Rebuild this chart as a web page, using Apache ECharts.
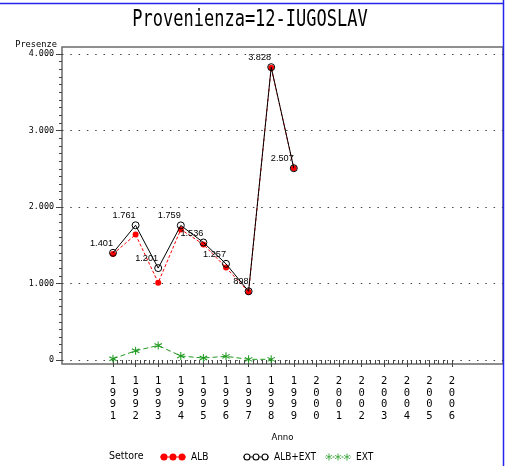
<!DOCTYPE html>
<html><head><meta charset="utf-8">
<script src="https://cdn.jsdelivr.net/npm/echarts@6/dist/echarts.min.js"></script>
<style>html,body{margin:0;padding:0;background:#fff}#c{width:508px;height:466px}</style>
</head><body><div id="c"></div>
<script>
// ---- data ----
const titleText = 'Provenienza=12-IUGOSLAV';
const yAxisName = 'Presenze';
const xAxisName = 'Anno';
const legendTitle = 'Settore';
const seriesNames = ['ALB', 'ALB+EXT', 'EXT'];
const yearsTot = [1991, 1992, 1993, 1994, 1995, 1996, 1997, 1998, 1999];
const valuesTot = [1401, 1761, 1201, 1759, 1536, 1257, 898, 3828, 2507];
const yearsALB = [1991, 1992, 1993, 1994, 1995, 1996, 1997, 1998, 1999];
const valuesALB = [1385, 1640, 1011, 1707, 1510, 1209, 889, 3819, 2507];
const yearsEXT = [1991, 1992, 1993, 1994, 1995, 1996, 1997, 1998];
const valuesEXT = [16, 121, 190, 52, 26, 48, 9, 9];
const xMin = 1991, xMax = 2006;
const yMin = 0, yMax = 4000, yStep = 1000;

// ---- styling helpers ----
const MONO = '"DejaVu Sans Mono", monospace';
const COND = '"DejaVu Sans Condensed", "DejaVu Sans", sans-serif';
const LAB = '"Liberation Sans", Arial, sans-serif';
const RED = '#ff0000', GREEN = '#1f9a1f', BLACK = '#000000';
const fmt = v => String(v).replace(/\B(?=(\d{3})+(?!\d))/g, '.');

function circ(cx, cy, r, cw) {
  const s = cw ? 1 : 0;
  return `M${cx - r},${cy} a${r},${r} 0 1,${s} ${2 * r},0 a${r},${r} 0 1,${s} ${-2 * r},0 Z `;
}
function rect(x0, x1, y0, y1) { return `M${x0},${y0} L${x1},${y0} L${x1},${y1} L${x0},${y1} Z `; }
function star(cx, cy, s) { // asterisk of size s centred at cx,cy
  const k = s / 10, ox = cx - s / 2, oy = cy - s / 2;
  const P = (x, y) => `${(ox + x * k).toFixed(2)},${(oy + y * k).toFixed(2)}`;
  return `M${P(4.4, 0)} L${P(5.6, 0)} L${P(5.6, 10)} L${P(4.4, 10)} Z ` +
         `M${P(0.97, 8.02)} L${P(0.37, 6.98)} L${P(9.03, 1.98)} L${P(9.63, 3.02)} Z ` +
         `M${P(9.03, 8.02)} L${P(0.37, 3.02)} L${P(0.97, 1.98)} L${P(9.63, 6.98)} Z `;
}
const starSymbol = 'path://' + star(5, 5, 10);
const iconALB = 'path://' + rect(0, 26, 3, 4) + circ(4, 3.5, 3.5, true) + circ(13, 3.5, 3.5, true) + circ(22, 3.5, 3.5, true);
const iconTot = 'path://' + rect(0, 0.5, 3, 4) + rect(7.5, 9.5, 3, 4) + rect(16.5, 18.5, 3, 4) + rect(25.5, 26, 3, 4) +
  [4, 13, 22].map(cx => circ(cx, 3.5, 3.5, true) + circ(cx, 3.5, 2.4, false)).join('');
const iconEXT = 'path://' + rect(0, 0.6, 3, 4) + rect(7.6, 9.4, 3, 4) + rect(16.6, 18.4, 3, 4) + rect(25.4, 26, 3, 4) +
  star(4, 3.5, 7) + star(13, 3.5, 7) + star(22, 3.5, 7);

const chart = echarts.init(document.getElementById('c'), null, {renderer: 'canvas'});
const legendBase = {
  orient: 'horizontal', top: 452, padding: 0, itemWidth: 26, itemHeight: 7, itemGap: 0,
  textStyle: {fontFamily: COND, fontSize: 10, color: BLACK}, selectedMode: false
};
chart.setOption({
  animation: false,
  backgroundColor: '#ffffff',
  title: [{text: legendTitle, left: 109, top: 451, padding: 0,
           textStyle: {fontFamily: COND, fontSize: 10.5, fontWeight: 'normal', color: BLACK}}],
  graphic: [
    {type: 'text', x: 250, y: 20, scaleY: 1.35,
     style: {text: titleText, font: '17px ' + MONO, fill: BLACK, textAlign: 'center', textVerticalAlign: 'middle'}},
    {type: 'line', shape: {x1: 0, y1: 3.5, x2: 504, y2: 3.5}, style: {stroke: '#2424ee', lineWidth: 1.5}, z: 100},
    {type: 'line', shape: {x1: 503.5, y1: 0, x2: 503.5, y2: 466}, style: {stroke: '#2424ee', lineWidth: 1.5}, z: 100}
  ],
  legend: [
    Object.assign({}, legendBase, {left: 160, data: [{name: seriesNames[0], icon: iconALB, itemStyle: {color: RED, borderWidth: 0}}]}),
    Object.assign({}, legendBase, {left: 243, data: [{name: seriesNames[1], icon: iconTot, itemStyle: {color: BLACK, borderWidth: 0}}]}),
    Object.assign({}, legendBase, {left: 325, data: [{name: seriesNames[2], icon: iconEXT, itemStyle: {color: GREEN, borderWidth: 0}}]})
  ],
  grid: [
    {left: 62, right: 5, top: 54, bottom: 106},   // y axis + dotted lines
    {left: 113, right: 56, top: 54, bottom: 106}, // data
    {left: 62, right: 5, top: 47, bottom: 102, show: true, borderColor: '#6a6a6a', borderWidth: 1.5, backgroundColor: 'transparent'}
  ],
  xAxis: [
    {gridIndex: 0, type: 'value', min: 0, max: 1, show: false},
    {gridIndex: 1, type: 'value', min: xMin, max: xMax, interval: 1, position: 'bottom', offset: 4,
     axisLine: {show: false},
     axisTick: {show: true, length: 7, lineStyle: {color: '#444', width: 1}},
     minorTick: {show: true, splitNumber: 5, length: 4, lineStyle: {color: '#444', width: 1}},
     splitLine: {show: false},
     axisLabel: {margin: 12, fontFamily: MONO, fontSize: 10.5, lineHeight: 11.4, color: BLACK,
                 formatter: v => String(v).split('').join('\n')},
     name: xAxisName, nameLocation: 'middle', nameGap: 69,
     nameTextStyle: {fontFamily: COND, fontSize: 9.5, color: BLACK}},
    {gridIndex: 2, type: 'value', min: 0, max: 1, show: false}
  ],
  yAxis: [
    {gridIndex: 0, type: 'value', min: yMin, max: yMax, interval: yStep,
     axisLine: {show: false},
     axisTick: {show: true, length: 6, lineStyle: {color: '#444'}},
     minorTick: {show: true, splitNumber: 10, length: 3, lineStyle: {color: '#444'}},
     splitLine: {show: true, lineStyle: {color: '#444', type: [1.5, 6.8], width: 1}},
     axisLabel: {margin: 8, fontFamily: MONO, fontSize: 8.4, color: BLACK, formatter: v => fmt(v)},
     name: yAxisName, nameLocation: 'end', nameGap: 5,
     nameTextStyle: {fontFamily: MONO, fontSize: 8.7, color: BLACK, align: 'right', padding: [0, 5, 0, 0]}},
    {gridIndex: 1, type: 'value', min: yMin, max: yMax, show: false},
    {gridIndex: 2, type: 'value', min: 0, max: 1, show: false}
  ],
  series: [
    {name: seriesNames[2], type: 'line', xAxisIndex: 1, yAxisIndex: 1, z: 3,
     data: yearsEXT.map((y, i) => [y, valuesEXT[i]]),
     symbol: starSymbol, symbolSize: 8, color: GREEN,
     itemStyle: {color: GREEN},
     lineStyle: {color: GREEN, width: 1, type: [5, 3]}},
    {name: seriesNames[0], type: 'line', xAxisIndex: 1, yAxisIndex: 1, z: 4,
     data: yearsALB.map((y, i) => [y, valuesALB[i]]),
     symbol: 'circle', symbolSize: 6, color: RED,
     itemStyle: {color: RED},
     lineStyle: {color: RED, width: 1, type: [3, 2]}},
    {name: seriesNames[1], type: 'line', xAxisIndex: 1, yAxisIndex: 1, z: 5,
     data: yearsTot.map((y, i) => [y, valuesTot[i]]),
     symbol: 'circle', symbolSize: 7, color: BLACK,
     itemStyle: {color: 'rgba(0,0,0,0)', borderColor: BLACK, borderWidth: 1},
     lineStyle: {color: BLACK, width: 1},
     label: {show: true, position: 'top', align: 'right', distance: 1,
             fontFamily: LAB, fontSize: 9.2, color: BLACK,
             formatter: p => fmt(p.value[1])}}
  ]
});
</script></body></html>
